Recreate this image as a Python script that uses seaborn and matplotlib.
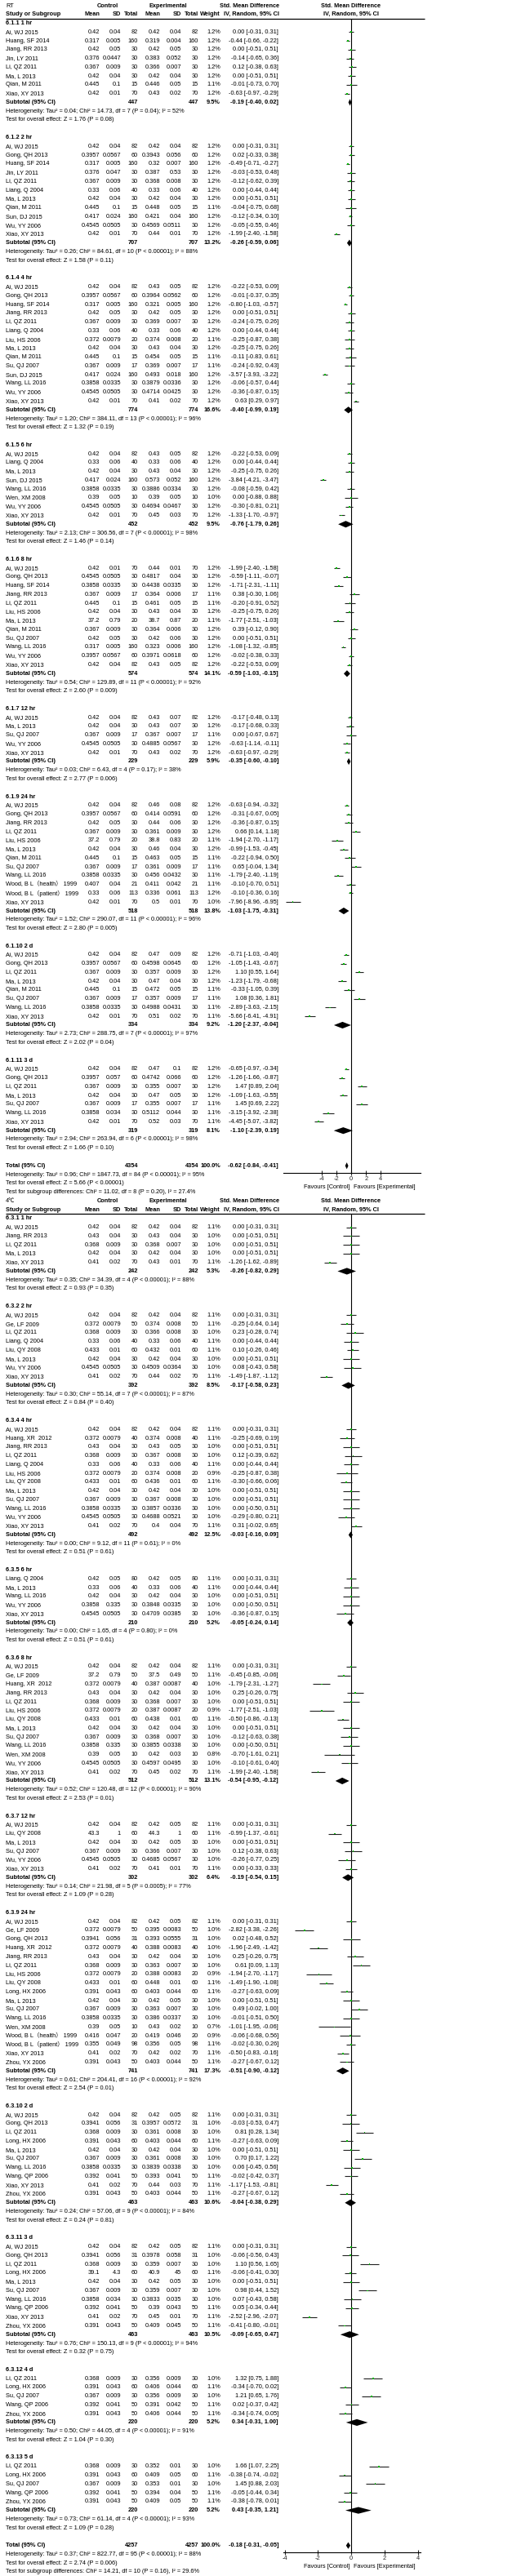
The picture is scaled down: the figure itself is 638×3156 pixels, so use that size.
import matplotlib
matplotlib.use("Agg")
import matplotlib.pyplot as plt
import seaborn as sns
import pandas as pd

sns.set_style("white")
plt.rcParams['font.family'] = ['Liberation Sans', 'Noto Sans CJK SC', 'DejaVu Sans']
plt.rcParams['axes.unicode_minus'] = False

# %% data -- RT panel
# (study, ctrl mean, ctrl sd, ctrl n, exp mean, exp sd, exp n, weight, smd, lo, hi)
rt_1hr = [
    ("Ai, WJ 2015", "0.42", "0.04", 82, "0.42", "0.04", 82, 1.2, 0.00, -0.31, 0.31),
    ("Huang, SF 2014", "0.317", "0.005", 160, "0.319", "0.004", 160, 1.2, -0.44, -0.66, -0.22),
    ("Jiang, RR 2013", "0.42", "0.05", 30, "0.42", "0.05", 30, 1.2, 0.00, -0.51, 0.51),
    ("Jin, LY 2011", "0.376", "0.0447", 30, "0.383", "0.052", 30, 1.2, -0.14, -0.65, 0.36),
    ("Li, QZ 2011", "0.367", "0.009", 30, "0.366", "0.007", 30, 1.2, 0.12, -0.38, 0.63),
    ("Ma, L 2013", "0.42", "0.04", 30, "0.42", "0.04", 30, 1.2, 0.00, -0.51, 0.51),
    ("Qian, M 2011", "0.445", "0.1", 15, "0.446", "0.05", 15, 1.1, -0.01, -0.73, 0.70),
    ("Xiao, XY 2013", "0.42", "0.01", 70, "0.43", "0.02", 70, 1.2, -0.63, -0.97, -0.29),
]
rt_2hr = [
    ("Ai, WJ 2015", "0.42", "0.04", 82, "0.42", "0.04", 82, 1.2, 0.00, -0.31, 0.31),
    ("Gong, QH 2013", "0.3957", "0.0567", 60, "0.3943", "0.056", 60, 1.2, 0.02, -0.33, 0.38),
    ("Huang, SF 2014", "0.317", "0.005", 160, "0.32", "0.007", 160, 1.2, -0.49, -0.71, -0.27),
    ("Jin, LY 2011", "0.376", "0.047", 30, "0.387", "0.53", 30, 1.2, -0.03, -0.53, 0.48),
    ("Li, QZ 2011", "0.367", "0.009", 30, "0.368", "0.008", 30, 1.2, -0.12, -0.62, 0.39),
    ("Liang, Q 2004", "0.33", "0.06", 40, "0.33", "0.06", 40, 1.2, 0.00, -0.44, 0.44),
    ("Ma, L 2013", "0.42", "0.04", 30, "0.42", "0.04", 30, 1.2, 0.00, -0.51, 0.51),
    ("Qian, M 2011", "0.445", "0.1", 15, "0.448", "0.05", 15, 1.1, -0.04, -0.75, 0.68),
    ("Sun, DJ 2015", "0.417", "0.024", 160, "0.421", "0.04", 160, 1.2, -0.12, -0.34, 0.10),
    ("Wu, YY 2006", "0.4545", "0.0505", 30, "0.4569", "0.0511", 30, 1.2, -0.05, -0.55, 0.46),
    ("Xiao, XY 2013", "0.42", "0.01", 70, "0.44", "0.01", 70, 1.2, -1.99, -2.40, -1.58),
]
rt_4hr = [
    ("Ai, WJ 2015", "0.42", "0.04", 82, "0.43", "0.05", 82, 1.2, -0.22, -0.53, 0.09),
    ("Gong, QH 2013", "0.3957", "0.0567", 60, "0.3964", "0.0562", 60, 1.2, -0.01, -0.37, 0.35),
    ("Huang, SF 2014", "0.317", "0.005", 160, "0.321", "0.005", 160, 1.2, -0.80, -1.03, -0.57),
    ("Jiang, RR 2013", "0.42", "0.05", 30, "0.42", "0.05", 30, 1.2, 0.00, -0.51, 0.51),
    ("Li, QZ 2011", "0.367", "0.009", 30, "0.369", "0.007", 30, 1.2, -0.24, -0.75, 0.26),
    ("Liang, Q 2004", "0.33", "0.06", 40, "0.33", "0.06", 40, 1.2, 0.00, -0.44, 0.44),
    ("Liu, HS 2006", "0.372", "0.0079", 20, "0.374", "0.008", 20, 1.1, -0.25, -0.87, 0.38),
    ("Ma, L 2013", "0.42", "0.04", 30, "0.43", "0.04", 30, 1.2, -0.25, -0.75, 0.26),
    ("Qian, M 2011", "0.445", "0.1", 15, "0.454", "0.05", 15, 1.1, -0.11, -0.83, 0.61),
    ("Su, QJ 2007", "0.367", "0.009", 17, "0.369", "0.007", 17, 1.1, -0.24, -0.92, 0.43),
    ("Sun, DJ 2015", "0.417", "0.024", 160, "0.493", "0.018", 160, 1.2, -3.57, -3.93, -3.22),
    ("Wang, LL 2016", "0.3858", "0.0335", 30, "0.3879", "0.0336", 30, 1.2, -0.06, -0.57, 0.44),
    ("Wu, YY 2006", "0.4545", "0.0505", 30, "0.4714", "0.0425", 30, 1.2, -0.36, -0.87, 0.15),
    ("Xiao, XY 2013", "0.42", "0.01", 70, "0.41", "0.02", 70, 1.2, 0.63, 0.29, 0.97),
]
rt_6hr = [
    ("Ai, WJ 2015", "0.42", "0.04", 82, "0.43", "0.05", 82, 1.2, -0.22, -0.53, 0.09),
    ("Liang, Q 2004", "0.33", "0.06", 40, "0.33", "0.06", 40, 1.2, 0.00, -0.44, 0.44),
    ("Ma, L 2013", "0.42", "0.04", 30, "0.43", "0.04", 30, 1.2, -0.25, -0.75, 0.26),
    ("Sun, DJ 2015", "0.417", "0.024", 160, "0.573", "0.052", 160, 1.2, -3.84, -4.21, -3.47),
    ("Wang, LL 2016", "0.3858", "0.0335", 30, "0.3886", "0.0334", 30, 1.2, -0.08, -0.59, 0.42),
    ("Wen, XM 2008", "0.39", "0.05", 10, "0.39", "0.05", 10, 1.0, 0.00, -0.88, 0.88),
    ("Wu, YY 2006", "0.4545", "0.0505", 30, "0.4694", "0.0467", 30, 1.2, -0.30, -0.81, 0.21),
    ("Xiao, XY 2013", "0.42", "0.01", 70, "0.45", "0.03", 70, 1.2, -1.33, -1.70, -0.97),
]
rt_8hr = [
    ("Ai, WJ 2015", "0.42", "0.01", 70, "0.44", "0.01", 70, 1.2, -1.99, -2.40, -1.58),
    ("Gong, QH 2013", "0.4545", "0.0505", 30, "0.4817", "0.04", 30, 1.2, -0.59, -1.11, -0.07),
    ("Huang, SF 2014", "0.3858", "0.0335", 30, "0.4438", "0.0335", 30, 1.2, -1.71, -2.31, -1.11),
    ("Jiang, RR 2013", "0.367", "0.009", 17, "0.364", "0.006", 17, 1.1, 0.38, -0.30, 1.06),
    ("Li, QZ 2011", "0.445", "0.1", 15, "0.461", "0.05", 15, 1.1, -0.20, -0.91, 0.52),
    ("Liu, HS 2006", "0.42", "0.04", 30, "0.43", "0.04", 30, 1.2, -0.25, -0.75, 0.26),
    ("Ma, L 2013", "37.2", "0.79", 20, "38.7", "0.87", 20, 1.1, -1.77, -2.51, -1.03),
    ("Qian, M 2011", "0.367", "0.009", 30, "0.364", "0.006", 30, 1.2, 0.39, -0.12, 0.90),
    ("Su, QJ 2007", "0.42", "0.05", 30, "0.42", "0.06", 30, 1.2, 0.00, -0.51, 0.51),
    ("Wang, LL 2016", "0.317", "0.005", 160, "0.323", "0.006", 160, 1.2, -1.08, -1.32, -0.85),
    ("Wu, YY 2006", "0.3957", "0.0567", 60, "0.3971", "0.0618", 60, 1.2, -0.02, -0.38, 0.33),
    ("Xiao, XY 2013", "0.42", "0.04", 82, "0.43", "0.05", 82, 1.2, -0.22, -0.53, 0.09),
]
rt_12hr = [
    ("Ai, WJ 2015", "0.42", "0.04", 82, "0.43", "0.07", 82, 1.2, -0.17, -0.48, 0.13),
    ("Ma, L 2013", "0.42", "0.04", 30, "0.43", "0.07", 30, 1.2, -0.17, -0.68, 0.33),
    ("Su, QJ 2007", "0.367", "0.009", 17, "0.367", "0.007", 17, 1.1, 0.00, -0.67, 0.67),
    ("Wu, YY 2006", "0.4545", "0.0505", 30, "0.4885", "0.0567", 30, 1.2, -0.63, -1.14, -0.11),
    ("Xiao, XY 2013", "0.42", "0.01", 70, "0.43", "0.02", 70, 1.2, -0.63, -0.97, -0.29),
]
rt_24hr = [
    ("Ai, WJ 2015", "0.42", "0.04", 82, "0.46", "0.08", 82, 1.2, -0.63, -0.94, -0.32),
    ("Gong, QH 2013", "0.3957", "0.0567", 60, "0.414", "0.0591", 60, 1.2, -0.31, -0.67, 0.05),
    ("Jiang, RR 2013", "0.42", "0.05", 30, "0.44", "0.06", 30, 1.2, -0.36, -0.87, 0.15),
    ("Li, QZ 2011", "0.367", "0.009", 30, "0.361", "0.009", 30, 1.2, 0.66, 0.14, 1.18),
    ("Liu, HS 2006", "37.2", "0.79", 20, "38.8", "0.83", 20, 1.1, -1.94, -2.70, -1.17),
    ("Ma, L 2013", "0.42", "0.04", 30, "0.46", "0.04", 30, 1.2, -0.99, -1.53, -0.45),
    ("Qian, M 2011", "0.445", "0.1", 15, "0.463", "0.05", 15, 1.1, -0.22, -0.94, 0.50),
    ("Su, QJ 2007", "0.367", "0.009", 17, "0.361", "0.009", 17, 1.1, 0.65, -0.04, 1.34),
    ("Wang, LL 2016", "0.3858", "0.0335", 30, "0.456", "0.0432", 30, 1.1, -1.79, -2.40, -1.19),
    ("Wood, B L（health） 1999", "0.407", "0.04", 21, "0.411", "0.042", 21, 1.1, -0.10, -0.70, 0.51),
    ("Wood, B L（patient） 1999", "0.33", "0.06", 113, "0.336", "0.061", 113, 1.2, -0.10, -0.36, 0.16),
    ("Xiao, XY 2013", "0.42", "0.01", 70, "0.5", "0.01", 70, 1.0, -7.96, -8.96, -6.95),
]
rt_2d = [
    ("Ai, WJ 2015", "0.42", "0.04", 82, "0.47", "0.09", 82, 1.2, -0.71, -1.03, -0.40),
    ("Gong, QH 2013", "0.3957", "0.0567", 60, "0.4598", "0.0645", 60, 1.2, -1.05, -1.43, -0.67),
    ("Li, QZ 2011", "0.367", "0.009", 30, "0.357", "0.009", 30, 1.2, 1.10, 0.55, 1.64),
    ("Ma, L 2013", "0.42", "0.04", 30, "0.47", "0.04", 30, 1.2, -1.23, -1.79, -0.68),
    ("Qian, M 2011", "0.445", "0.1", 15, "0.472", "0.05", 15, 1.1, -0.33, -1.05, 0.39),
    ("Su, QJ 2007", "0.367", "0.009", 17, "0.357", "0.009", 17, 1.1, 1.08, 0.36, 1.81),
    ("Wang, LL 2016", "0.3858", "0.0335", 30, "0.4988", "0.0431", 30, 1.1, -2.89, -3.63, -2.15),
    ("Xiao, XY 2013", "0.42", "0.01", 70, "0.51", "0.02", 70, 1.1, -5.66, -6.41, -4.91),
]
rt_3d = [
    ("Ai, WJ 2015", "0.42", "0.04", 82, "0.47", "0.1", 82, 1.2, -0.65, -0.97, -0.34),
    ("Gong, QH 2013", "0.3957", "0.057", 60, "0.4742", "0.066", 60, 1.2, -1.26, -1.66, -0.87),
    ("Li, QZ 2011", "0.367", "0.009", 30, "0.355", "0.007", 30, 1.2, 1.47, 0.89, 2.04),
    ("Ma, L 2013", "0.42", "0.04", 30, "0.47", "0.05", 30, 1.2, -1.09, -1.63, -0.55),
    ("Su, QJ 2007", "0.367", "0.009", 17, "0.355", "0.007", 17, 1.1, 1.45, 0.69, 2.22),
    ("Wang, LL 2016", "0.3858", "0.034", 30, "0.5112", "0.044", 30, 1.1, -3.15, -3.92, -2.38),
    ("Xiao, XY 2013", "0.42", "0.01", 70, "0.52", "0.03", 70, 1.1, -4.45, -5.07, -3.82),
]

rt_labels = ["6.1.1 1 hr", "6.1.2 2 hr", "6.1.4 4 hr", "6.1.5 6 hr", "6.1.6 8 hr",
             "6.1.7 12 hr", "6.1.9 24 hr", "6.1.10 2 d", "6.1.11 3 d"]
rt_studies = [rt_1hr, rt_2hr, rt_4hr, rt_6hr, rt_8hr, rt_12hr, rt_24hr, rt_2d, rt_3d]
rt_sub_n = [447, 707, 774, 452, 574, 229, 518, 334, 319]
rt_sub_w = [9.5, 13.2, 16.6, 9.5, 14.1, 5.9, 13.8, 9.2, 8.1]
rt_sub_est = [(-0.19, -0.40, 0.02), (-0.26, -0.59, 0.06), (-0.40, -0.99, 0.19),
              (-0.76, -1.79, 0.26), (-0.59, -1.03, -0.15), (-0.35, -0.60, -0.10),
              (-1.03, -1.75, -0.31), (-1.20, -2.37, -0.04), (-1.10, -2.39, 0.19)]
# tau2, chi2, df, P, I2
rt_het = [("0.04", "14.73", 7, "= 0.04", 52), ("0.26", "84.61", 10, "< 0.00001", 88),
          ("1.20", "384.11", 13, "< 0.00001", 96), ("2.13", "306.56", 7, "< 0.00001", 98),
          ("0.54", "129.89", 11, "< 0.00001", 92), ("0.03", "6.43", 4, "= 0.17", 38),
          ("1.52", "290.07", 11, "< 0.00001", 96), ("2.73", "288.75", 7, "< 0.00001", 97),
          ("2.94", "263.94", 6, "< 0.00001", 98)]
rt_z = [("1.76", "= 0.08"), ("1.58", "= 0.11"), ("1.32", "= 0.19"), ("1.46", "= 0.14"),
        ("2.60", "= 0.009"), ("2.77", "= 0.006"), ("2.80", "= 0.005"), ("2.02", "= 0.04"),
        ("1.66", "= 0.10")]
rt_total = (4354, 100.0, -0.62, -0.84, -0.41)
rt_total_text = ["Heterogeneity: Tau² = 0.96; Chi² = 1847.73, df = 84 (P < 0.00001); I² = 95%",
                 "Test for overall effect: Z = 5.66 (P < 0.00001)",
                 "Test for subgroup differences: Chi² = 11.02, df = 8 (P = 0.20), I² = 27.4%"]

# %% data -- 4℃ panel
c4_1hr = [
    ("Ai, WJ 2015", "0.42", "0.04", 82, "0.42", "0.04", 82, 1.1, 0.00, -0.31, 0.31),
    ("Jiang, RR 2013", "0.43", "0.04", 30, "0.43", "0.04", 30, 1.0, 0.00, -0.51, 0.51),
    ("Li, QZ 2011", "0.368", "0.009", 30, "0.368", "0.007", 30, 1.0, 0.00, -0.51, 0.51),
    ("Ma, L 2013", "0.42", "0.04", 30, "0.42", "0.04", 30, 1.0, 0.00, -0.51, 0.51),
    ("Xiao, XY 2013", "0.41", "0.02", 70, "0.43", "0.01", 70, 1.1, -1.26, -1.62, -0.89),
]
c4_2hr = [
    ("Ai, WJ 2015", "0.42", "0.04", 82, "0.42", "0.04", 82, 1.1, 0.00, -0.31, 0.31),
    ("Ge, LF 2009", "0.372", "0.0079", 50, "0.374", "0.008", 50, 1.1, -0.25, -0.64, 0.14),
    ("Li, QZ 2011", "0.368", "0.009", 30, "0.366", "0.008", 30, 1.0, 0.23, -0.28, 0.74),
    ("Liang, Q 2004", "0.33", "0.06", 40, "0.33", "0.06", 40, 1.1, 0.00, -0.44, 0.44),
    ("Liu, QY 2008", "0.433", "0.01", 60, "0.432", "0.01", 60, 1.1, 0.10, -0.26, 0.46),
    ("Ma, L 2013", "0.42", "0.04", 30, "0.42", "0.04", 30, 1.0, 0.00, -0.51, 0.51),
    ("Wu, YY 2006", "0.4545", "0.0505", 30, "0.4509", "0.0364", 30, 1.0, 0.08, -0.43, 0.58),
    ("Xiao, XY 2013", "0.41", "0.02", 70, "0.44", "0.02", 70, 1.1, -1.49, -1.87, -1.12),
]
c4_4hr = [
    ("Ai, WJ 2015", "0.42", "0.04", 82, "0.42", "0.04", 82, 1.1, 0.00, -0.31, 0.31),
    ("Huang, XR  2012", "0.372", "0.0079", 40, "0.374", "0.008", 40, 1.1, -0.25, -0.69, 0.19),
    ("Jiang, RR 2013", "0.43", "0.04", 30, "0.43", "0.05", 30, 1.0, 0.00, -0.51, 0.51),
    ("Li, QZ 2011", "0.368", "0.009", 30, "0.367", "0.008", 30, 1.0, 0.12, -0.39, 0.62),
    ("Liang, Q 2004", "0.33", "0.06", 40, "0.33", "0.06", 40, 1.1, 0.00, -0.44, 0.44),
    ("Liu, HS 2006", "0.372", "0.0079", 20, "0.374", "0.008", 20, 0.9, -0.25, -0.87, 0.38),
    ("Liu, QY 2008", "0.433", "0.01", 60, "0.436", "0.01", 60, 1.1, -0.30, -0.66, 0.06),
    ("Ma, L 2013", "0.42", "0.04", 30, "0.42", "0.04", 30, 1.0, 0.00, -0.51, 0.51),
    ("Su, QJ 2007", "0.367", "0.009", 30, "0.367", "0.008", 30, 1.0, 0.00, -0.51, 0.51),
    ("Wang, LL 2016", "0.3858", "0.0335", 30, "0.3857", "0.0336", 30, 1.0, 0.00, -0.50, 0.51),
    ("Wu, YY 2006", "0.4545", "0.0505", 30, "0.4688", "0.0521", 30, 1.0, -0.29, -0.80, 0.21),
    ("Xiao, XY 2013", "0.41", "0.02", 70, "0.4", "0.04", 70, 1.1, 0.31, -0.02, 0.65),
]
c4_6hr = [
    ("Liang, Q 2004", "0.42", "0.05", 80, "0.42", "0.05", 80, 1.1, 0.00, -0.31, 0.31),
    ("Ma, L 2013", "0.33", "0.06", 40, "0.33", "0.06", 40, 1.1, 0.00, -0.44, 0.44),
    ("Wang, LL 2016", "0.42", "0.04", 30, "0.42", "0.04", 30, 1.0, 0.00, -0.51, 0.51),
    ("Wu, YY 2006", "0.3858", "0.335", 30, "0.3848", "0.0335", 30, 1.0, 0.00, -0.50, 0.51),
    ("Xiao, XY 2013", "0.4545", "0.0505", 30, "0.4709", "0.0385", 30, 1.0, -0.36, -0.87, 0.15),
]
c4_8hr = [
    ("Ai, WJ 2015", "0.42", "0.04", 82, "0.42", "0.04", 82, 1.1, 0.00, -0.31, 0.31),
    ("Ge, LF 2009", "37.2", "0.79", 50, "37.5", "0.49", 50, 1.1, -0.45, -0.85, -0.06),
    ("Huang, XR  2012", "0.372", "0.0079", 40, "0.387", "0.0087", 40, 1.0, -1.79, -2.31, -1.27),
    ("Jiang, RR 2013", "0.43", "0.04", 30, "0.42", "0.04", 30, 1.0, 0.25, -0.26, 0.75),
    ("Li, QZ 2011", "0.368", "0.009", 30, "0.368", "0.007", 30, 1.0, 0.00, -0.51, 0.51),
    ("Liu, HS 2006", "0.372", "0.0079", 20, "0.387", "0.0087", 20, 0.9, -1.77, -2.51, -1.03),
    ("Liu, QY 2008", "0.433", "0.01", 60, "0.438", "0.01", 60, 1.1, -0.50, -0.86, -0.13),
    ("Ma, L 2013", "0.42", "0.04", 30, "0.42", "0.04", 30, 1.0, 0.00, -0.51, 0.51),
    ("Su, QJ 2007", "0.367", "0.009", 30, "0.368", "0.007", 30, 1.0, -0.12, -0.63, 0.38),
    ("Wang, LL 2016", "0.3858", "0.335", 30, "0.3855", "0.0338", 30, 1.0, 0.00, -0.50, 0.51),
    ("Wen, XM 2008", "0.39", "0.05", 10, "0.42", "0.03", 10, 0.8, -0.70, -1.61, 0.21),
    ("Wu, YY 2006", "0.4545", "0.0505", 30, "0.4597", "0.0495", 30, 1.0, -0.10, -0.61, 0.40),
    ("Xiao, XY 2013", "0.41", "0.02", 70, "0.45", "0.02", 70, 1.1, -1.99, -2.40, -1.58),
]
c4_12hr = [
    ("Ai, WJ 2015", "0.42", "0.04", 82, "0.42", "0.05", 82, 1.1, 0.00, -0.31, 0.31),
    ("Liu, QY 2008", "43.3", "1", 60, "44.3", "1", 60, 1.1, -0.99, -1.37, -0.61),
    ("Ma, L 2013", "0.42", "0.04", 30, "0.42", "0.05", 30, 1.0, 0.00, -0.51, 0.51),
    ("Su, QJ 2007", "0.367", "0.009", 30, "0.366", "0.007", 30, 1.0, 0.12, -0.38, 0.63),
    ("Wu, YY 2006", "0.4545", "0.0505", 30, "0.4685", "0.0567", 30, 1.0, -0.26, -0.77, 0.25),
    ("Xiao, XY 2013", "0.41", "0.02", 70, "0.41", "0.01", 70, 1.1, 0.00, -0.33, 0.33),
]
c4_24hr = [
    ("Ai, WJ 2015", "0.42", "0.04", 82, "0.42", "0.05", 82, 1.1, 0.00, -0.31, 0.31),
    ("Ge, LF 2009", "0.372", "0.0079", 50, "0.395", "0.0083", 50, 1.0, -2.82, -3.38, -2.26),
    ("Gong, QH 2013", "0.3941", "0.056", 31, "0.393", "0.0555", 31, 1.0, 0.02, -0.48, 0.52),
    ("Huang, XR  2012", "0.372", "0.0079", 40, "0.388", "0.0083", 40, 1.0, -1.96, -2.49, -1.42),
    ("Jiang, RR 2013", "0.43", "0.04", 30, "0.42", "0.04", 30, 1.0, 0.25, -0.26, 0.75),
    ("Li, QZ 2011", "0.368", "0.009", 30, "0.363", "0.007", 30, 1.0, 0.61, 0.09, 1.13),
    ("Liu, HS 2006", "0.372", "0.0079", 20, "0.388", "0.0083", 20, 0.9, -1.94, -2.70, -1.17),
    ("Liu, QY 2008", "0.433", "0.01", 60, "0.448", "0.01", 60, 1.1, -1.49, -1.90, -1.08),
    ("Long, HX 2006", "0.391", "0.043", 60, "0.403", "0.044", 60, 1.1, -0.27, -0.63, 0.09),
    ("Ma, L 2013", "0.42", "0.04", 30, "0.42", "0.05", 30, 1.0, 0.00, -0.51, 0.51),
    ("Su, QJ 2007", "0.367", "0.009", 30, "0.363", "0.007", 30, 1.0, 0.49, -0.02, 1.00),
    ("Wang, LL 2016", "0.3858", "0.0335", 30, "0.386", "0.0337", 30, 1.0, -0.01, -0.51, 0.50),
    ("Wen, XM 2008", "0.39", "0.05", 10, "0.43", "0.02", 10, 0.7, -1.01, -1.95, -0.06),
    ("Wood, B L（health） 1999", "0.416", "0.047", 20, "0.419", "0.046", 20, 0.9, -0.06, -0.68, 0.56),
    ("Wood, B L（patient） 1999", "0.355", "0.049", 98, "0.356", "0.05", 98, 1.1, -0.02, -0.30, 0.26),
    ("Xiao, XY 2013", "0.41", "0.02", 70, "0.42", "0.02", 70, 1.1, -0.50, -0.83, -0.16),
    ("Zhou, YX 2006", "0.391", "0.043", 50, "0.403", "0.044", 50, 1.1, -0.27, -0.67, 0.12),
]
c4_2d = [
    ("Ai, WJ 2015", "0.42", "0.04", 82, "0.42", "0.05", 82, 1.1, 0.00, -0.31, 0.31),
    ("Gong, QH 2013", "0.3941", "0.056", 31, "0.3957", "0.0572", 31, 1.0, -0.03, -0.53, 0.47),
    ("Li, QZ 2011", "0.368", "0.009", 30, "0.361", "0.008", 30, 1.0, 0.81, 0.28, 1.34),
    ("Long, HX 2006", "0.391", "0.043", 60, "0.403", "0.044", 60, 1.1, -0.27, -0.63, 0.09),
    ("Ma, L 2013", "0.42", "0.04", 30, "0.42", "0.04", 30, 1.0, 0.00, -0.51, 0.51),
    ("Su, QJ 2007", "0.367", "0.009", 30, "0.361", "0.008", 30, 1.0, 0.70, 0.17, 1.22),
    ("Wang, LL 2016", "0.3858", "0.0335", 30, "0.3839", "0.0338", 30, 1.0, 0.06, -0.45, 0.56),
    ("Wang, QP 2006", "0.392", "0.041", 50, "0.393", "0.041", 50, 1.1, -0.02, -0.42, 0.37),
    ("Xiao, XY 2013", "0.41", "0.02", 70, "0.44", "0.03", 70, 1.1, -1.17, -1.53, -0.81),
    ("Zhou, YX 2006", "0.391", "0.043", 50, "0.403", "0.044", 50, 1.1, -0.27, -0.67, 0.12),
]
c4_3d = [
    ("Ai, WJ 2015", "0.42", "0.04", 82, "0.42", "0.05", 82, 1.1, 0.00, -0.31, 0.31),
    ("Gong, QH 2013", "0.3941", "0.056", 31, "0.3978", "0.058", 31, 1.0, -0.06, -0.56, 0.43),
    ("Li, QZ 2011", "0.368", "0.009", 30, "0.359", "0.007", 30, 1.0, 1.10, 0.56, 1.65),
    ("Long, HX 2006", "39.1", "4.3", 60, "40.9", "45", 60, 1.1, -0.06, -0.41, 0.30),
    ("Ma, L 2013", "0.42", "0.04", 30, "0.42", "0.05", 30, 1.0, 0.00, -0.51, 0.51),
    ("Su, QJ 2007", "0.367", "0.009", 30, "0.359", "0.007", 30, 1.0, 0.98, 0.44, 1.52),
    ("Wang, LL 2016", "0.3858", "0.034", 30, "0.3833", "0.035", 30, 1.0, 0.07, -0.43, 0.58),
    ("Wang, QP 2006", "0.392", "0.041", 50, "0.39", "0.043", 50, 1.1, 0.05, -0.34, 0.44),
    ("Xiao, XY 2013", "0.41", "0.02", 70, "0.45", "0.01", 70, 1.1, -2.52, -2.96, -2.07),
    ("Zhou, YX 2006", "0.391", "0.043", 50, "0.409", "0.045", 50, 1.1, -0.41, -0.80, -0.01),
]
c4_4d = [
    ("Li, QZ 2011", "0.368", "0.009", 30, "0.356", "0.009", 30, 1.0, 1.32, 0.75, 1.88),
    ("Long, HX 2006", "0.391", "0.043", 60, "0.406", "0.044", 60, 1.1, -0.34, -0.70, 0.02),
    ("Su, QJ 2007", "0.367", "0.009", 30, "0.356", "0.009", 30, 1.0, 1.21, 0.65, 1.76),
    ("Wang, QP 2006", "0.392", "0.041", 50, "0.391", "0.042", 50, 1.1, 0.02, -0.37, 0.42),
    ("Zhou, YX 2006", "0.391", "0.043", 50, "0.406", "0.044", 50, 1.1, -0.34, -0.74, 0.05),
]
c4_5d = [
    ("Li, QZ 2011", "0.368", "0.009", 30, "0.352", "0.01", 30, 1.0, 1.66, 1.07, 2.25),
    ("Long, HX 2006", "0.391", "0.043", 60, "0.409", "0.05", 60, 1.1, -0.38, -0.74, -0.02),
    ("Su, QJ 2007", "0.367", "0.009", 30, "0.353", "0.01", 30, 1.0, 1.45, 0.88, 2.03),
    ("Wang, QP 2006", "0.392", "0.041", 50, "0.394", "0.04", 50, 1.1, -0.05, -0.44, 0.34),
    ("Zhou, YX 2006", "0.391", "0.043", 50, "0.409", "0.05", 50, 1.1, -0.38, -0.78, 0.01),
]

c4_labels = ["6.3.1 1 hr", "6.3.2 2 hr", "6.3.4 4 hr", "6.3.5 6 hr", "6.3.6 8 hr", "6.3.7 12 hr",
             "6.3.9 24 hr", "6.3.10 2 d", "6.3.11 3 d", "6.3.12 4 d", "6.3.13 5 d"]
c4_studies = [c4_1hr, c4_2hr, c4_4hr, c4_6hr, c4_8hr, c4_12hr, c4_24hr, c4_2d, c4_3d, c4_4d, c4_5d]
c4_sub_n = [242, 392, 492, 210, 512, 302, 741, 463, 463, 220, 220]
c4_sub_w = [5.3, 8.5, 12.5, 5.2, 13.1, 6.4, 17.3, 10.6, 10.5, 5.2, 5.2]
c4_sub_est = [(-0.26, -0.82, 0.29), (-0.17, -0.58, 0.23), (-0.03, -0.16, 0.09),
              (-0.05, -0.24, 0.14), (-0.54, -0.95, -0.12), (-0.19, -0.54, 0.15),
              (-0.51, -0.90, -0.12), (-0.04, -0.38, 0.29), (-0.09, -0.65, 0.47),
              (0.34, -0.31, 1.00), (0.43, -0.35, 1.21)]
c4_het = [("0.35", "34.39", 4, "< 0.00001", 88), ("0.30", "55.14", 7, "< 0.00001", 87),
          ("0.00", "9.12", 11, "= 0.61", 0), ("0.00", "1.65", 4, "= 0.80", 0),
          ("0.52", "120.48", 12, "< 0.00001", 90), ("0.14", "21.98", 5, "= 0.0005", 77),
          ("0.61", "204.41", 16, "< 0.00001", 92), ("0.24", "57.06", 9, "< 0.00001", 84),
          ("0.76", "150.13", 9, "< 0.00001", 94), ("0.50", "44.05", 4, "< 0.00001", 91),
          ("0.73", "61.14", 4, "< 0.00001", 93)]
c4_z = [("0.93", "= 0.35"), ("0.84", "= 0.40"), ("0.51", "= 0.61"), ("0.51", "= 0.61"),
        ("2.53", "= 0.01"), ("1.09", "= 0.28"), ("2.54", "= 0.01"), ("0.24", "= 0.81"),
        ("0.32", "= 0.75"), ("1.04", "= 0.30"), ("1.09", "= 0.28")]
c4_total = (4257, 100.0, -0.18, -0.31, -0.05)
c4_total_text = ["Heterogeneity: Tau² = 0.37; Chi² = 822.77, df = 95 (P < 0.00001); I² = 88%",
                 "Test for overall effect: Z = 2.74 (P = 0.006)",
                 "Test for subgroup differences: Chi² = 14.21, df = 10 (P = 0.16), I² = 29.6%"]

# %% layout helpers
W, H = 638, 3156
Y0, DY = 7.0, 10.767
FS = 5.3
COLS = [122, 148, 169, 196, 222, 243]   # right edges of mean/sd/total columns
X_W, X_CI = 270, 341
X_PLOT0, X_PLOT1, X_ZERO = 347, 515, 430

fig = plt.figure(figsize=(W / 100, H / 100), dpi=100)
tab = fig.add_axes([0, 0, 1, 1])
tab.set_xlim(0, W)
tab.set_ylim((H - Y0) / DY, -Y0 / DY)
tab.axis('off')


def txt(x, i, s, ha='left', bold=False):
    tab.text(x, i, s, ha=ha, va='center', fontsize=FS,
             fontweight='bold' if bold else 'normal', color='black')


def ci(e, l, h):
    return f"{e:.2f} [{l:.2f}, {h:.2f}]"


def fig_y(i):
    return 1 - (Y0 + DY * i) / H


def panel(title, start, labels, studies, sub_n, sub_w, sub_est, het, z, total, total_text, xlim):
    # header lines
    txt(7, start, title)
    txt(132, start, "Control", ha='center', bold=True)
    txt(206, start, "Experimental", ha='center', bold=True)
    txt(306, start, "Std. Mean Difference", ha='center', bold=True)
    txt(X_ZERO, start, "Std. Mean Difference", ha='center', bold=True)
    txt(7, start + 1, "Study or Subgroup", bold=True)
    for x, s in zip(COLS, ["Mean", "SD", "Total", "Mean", "SD", "Total"]):
        txt(x, start + 1, s, ha='right', bold=True)
    txt(X_W, start + 1, "Weight", ha='right', bold=True)
    txt(308, start + 1, "IV, Random, 95% CI", ha='center', bold=True)
    txt(X_ZERO, start + 1, "IV, Random, 95% CI", ha='center', bold=True)
    rule = start + 1.45
    tab.hlines(rule, 7, 520, color='black', lw=0.9)

    rows, diam = [], []
    i = start + 2
    for k, lab in enumerate(labels):
        txt(7, i, lab, bold=True)
        i += 1
        for r in studies[k]:
            txt(7, i, r[0])
            for x, v in zip(COLS, r[1:7]):
                txt(x, i, str(v), ha='right')
            txt(X_W, i, f"{r[7]:.1f}%", ha='right')
            txt(X_CI, i, ci(*r[8:11]), ha='right')
            rows.append({'row': i, 'est': r[8], 'lo': r[9], 'hi': r[10], 'w': r[7]})
            i += 1
        e, l, h = sub_est[k]
        txt(7, i, "Subtotal (95% CI)", bold=True)
        txt(COLS[2], i, str(sub_n[k]), ha='right', bold=True)
        txt(COLS[5], i, str(sub_n[k]), ha='right', bold=True)
        txt(X_W, i, f"{sub_w[k]:.1f}%", ha='right', bold=True)
        txt(X_CI, i, ci(e, l, h), ha='right', bold=True)
        diam.append((i, e, l, h))
        t2, c2, d, p, i2 = het[k]
        txt(7, i + 1, f"Heterogeneity: Tau² = {t2}; Chi² = {c2}, df = {d} (P {p}); I² = {i2}%")
        txt(7, i + 2, f"Test for overall effect: Z = {z[k][0]} (P {z[k][1]})")
        i += 4
    n, w, e, l, h = total
    txt(7, i, "Total (95% CI)", bold=True)
    txt(COLS[2], i, str(n), ha='right', bold=True)
    txt(COLS[5], i, str(n), ha='right', bold=True)
    txt(X_W, i, f"{w:.1f}%", ha='right', bold=True)
    txt(X_CI, i, ci(e, l, h), ha='right', bold=True)
    diam.append((i, e, l, h))
    for j, s in enumerate(total_text):
        txt(7, i + 1 + j, s)
    txt(X_ZERO - 2, i + 2.4, "Favours [Control]", ha='right')
    txt(X_ZERO + 3, i + 2.4, "Favours [Experimental]")

    # forest axes
    axis_i = i + 0.8
    ax = fig.add_axes([X_PLOT0 / W, fig_y(axis_i), (X_PLOT1 - X_PLOT0) / W,
                       fig_y(rule) - fig_y(axis_i)])
    df = pd.DataFrame(rows)
    ax.hlines(df['row'], df['lo'], df['hi'], color='#222222', lw=0.8, zorder=2)
    sns.scatterplot(data=df, x='est', y='row', size='w', sizes=(1.0, 2.0), size_norm=(0.7, 1.2),
                    marker='s', color='#00b400', linewidth=0, legend=False, ax=ax, zorder=3)
    for (r, e, l, h) in diam:
        ax.fill([l, e, h, e], [r, r - 0.38, r, r + 0.38], color='black', lw=0, zorder=4)
    ax.axvline(0, color='black', lw=0.8, zorder=1)
    ax.set_xlim(*xlim)
    ax.set_ylim(axis_i, rule)
    ax.set_xticks([-4, -2, 0, 2, 4])
    ax.set_xticklabels(["-4", "-2", "0", "2", "4"])
    ax.set_yticks([])
    ax.set_xlabel('')
    ax.set_ylabel('')
    ax.tick_params(axis='x', direction='inout', length=4, width=0.8, labelsize=FS, pad=1,
                   bottom=True)
    for s in ['top', 'left', 'right']:
        ax.spines[s].set_visible(False)
    ax.spines['bottom'].set_color('black')
    ax.spines['bottom'].set_linewidth(0.8)
    ax.patch.set_alpha(0)
    return i + 4


nxt = panel("RT", 0, rt_labels, rt_studies, rt_sub_n, rt_sub_w, rt_sub_est, rt_het, rt_z,
            rt_total, rt_total_text, (-9.25, 9.42))
panel("4℃", nxt, c4_labels, c4_studies, c4_sub_n, c4_sub_w, c4_sub_est, c4_het, c4_z,
      c4_total, c4_total_text, (-4.08, 4.17))

fig.savefig("out.png", dpi=100)
